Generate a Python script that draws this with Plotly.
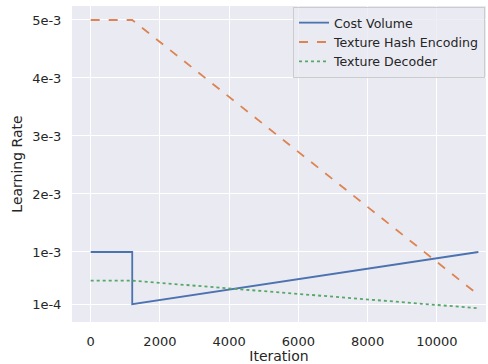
import plotly.graph_objects as go

# Data
cost_x = [0, 1200, 1200, 11200]
cost_y = [1e-3, 1e-3, 1e-4, 1e-3]
hash_x = [0, 1200, 11200]
hash_y = [5e-3, 5e-3, 2.6e-4]
dec_x = [0, 1200, 11200]
dec_y = [5.05e-4, 5.05e-4, 3e-5]

x_ticks = [0, 2000, 4000, 6000, 8000, 10000]
x_tick_labels = ["0", "2000", "4000", "6000", "8000", "10000"]
y_ticks = [1e-4, 1e-3, 2e-3, 3e-3, 4e-3, 5e-3]
y_tick_labels = ["1e-4", "1e-3", "2e-3", "3e-3", "4e-3", "5e-3"]

font = "DejaVu Sans"
txt = "#262626"

fig = go.Figure()
fig.add_trace(go.Scatter(x=cost_x, y=cost_y, mode="lines", name="Cost Volume",
                         line=dict(color="#4c72b0", width=1.8)))
fig.add_trace(go.Scatter(x=hash_x, y=hash_y, mode="lines", name="Texture Hash Encoding",
                         line=dict(color="#dd8452", width=1.8, dash="dash")))
fig.add_trace(go.Scatter(x=dec_x, y=dec_y, mode="lines", name="Texture Decoder",
                         line=dict(color="#55a868", width=1.8, dash="dot")))

fig.update_layout(
    width=488, height=364,
    margin=dict(l=72, r=2, t=6, b=42, autoexpand=False),
    paper_bgcolor="white", plot_bgcolor="#eaeaf2",
    font=dict(family=font, color=txt, size=13),
    legend=dict(x=0.9976, y=0.997, xanchor="right", yanchor="top",
                bgcolor="rgba(234,234,242,0.8)", bordercolor="#cccccc", borderwidth=1,
                font=dict(size=12.6, color=txt), tracegroupgap=0),
    showlegend=True,
)
fig.update_xaxes(range=[-540, 11420], tickvals=x_ticks, ticktext=x_tick_labels,
                 showgrid=True, gridcolor="white",
                 gridwidth=1.3, zeroline=False, showline=False, ticks="outside", ticklen=7,
                 tickcolor="rgba(0,0,0,0)", tickfont=dict(size=13), automargin=False,
                 title=dict(text="Iteration", font=dict(size=14), standoff=2))
fig.update_yaxes(range=[-2.07e-4, 5.241e-3], tickvals=y_ticks, ticktext=y_tick_labels,
                 showgrid=True, gridcolor="white", gridwidth=1.3, zeroline=False, showline=False,
                 ticks="outside", ticklen=7, tickcolor="rgba(0,0,0,0)", tickfont=dict(size=13),
                 automargin=False,
                 title=dict(text="Learning Rate", font=dict(size=14), standoff=6))

fig.write_html("out.html", config={"displayModeBar": False},
               post_script="document.body.style.margin='0';")
